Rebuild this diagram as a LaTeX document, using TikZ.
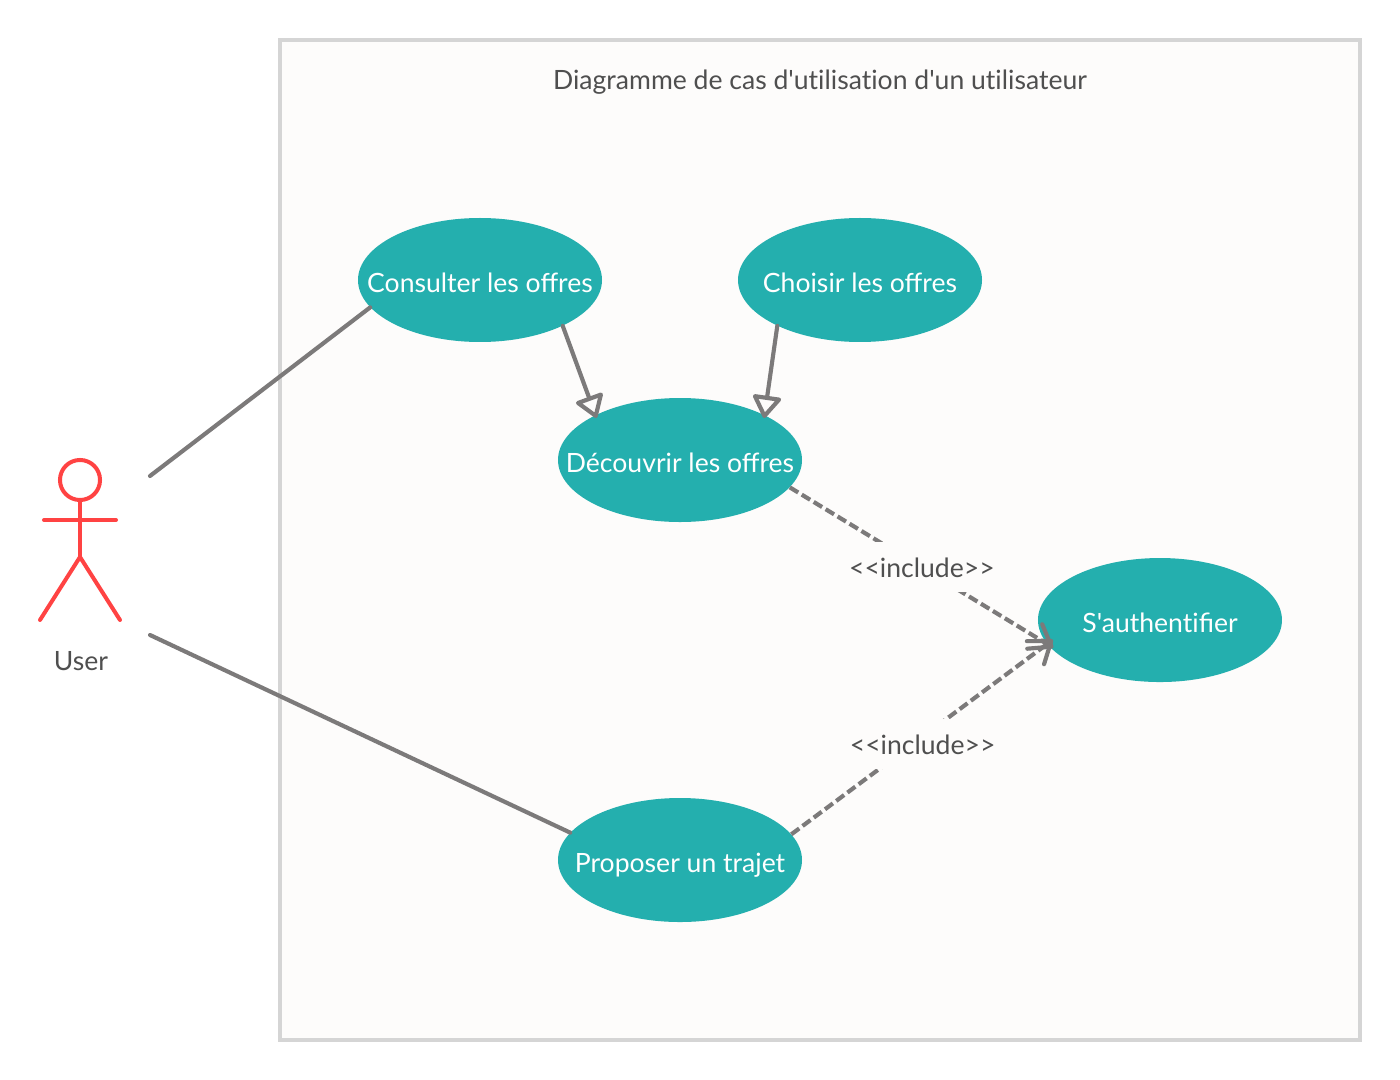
\documentclass[tikz,border=0pt]{standalone}
\usepackage{fontspec}
\usepackage{xcolor}
\usetikzlibrary{positioning}
\usetikzlibrary{shapes.geometric}
\usetikzlibrary{arrows.meta}
\newfontfamily\latofont{Lato}
\definecolor{uc-teal}{HTML}{24AFAE}
\definecolor{uc-line}{HTML}{7C7A7A}
\definecolor{uc-red}{HTML}{FF4343}
\definecolor{uc-frame}{HTML}{D5D5D5}
\definecolor{uc-back}{HTML}{FDFCFB}
\definecolor{uc-text}{HTML}{4F4F4F}
\newcommand{\ucname}[1]{\makebox[0pt]{#1}}
\newcommand{\nolig}{\kern0pt }
\begin{document}
\begin{tikzpicture}
[
x=0.2646mm, y=-0.2646mm,
frame-a/.style={draw=uc-frame, fill=uc-back, line width=1.06mm},
case-a/.style={ellipse, fill=uc-teal, text=white, inner sep=0mm, minimum width=64.56mm, minimum height=32.81mm, on grid, text height=6.4mm, text depth=0mm, font=\latofont\fontsize{20}{24}\selectfont},
text-a/.style={text=uc-text, font=\latofont\fontsize{20}{24}\selectfont},
actor-a/.style={draw=uc-red, line width=1.06mm, line cap=round},
link-a/.style={draw=uc-line, line width=1.1mm, line cap=round},
gen-a/.style={link-a, -{Triangle[open, length=6.4mm, width=8.2mm, round]}, shorten >=-0.8mm},
dep-a/.style={link-a, line cap=butt, dash pattern=on 2.6mm off 1.1mm, -{Straight Barb[length=5.2mm, width=7.6mm, round]}, shorten >=-1.9mm},
dep-lb/.style={text-a, fill=uc-back, minimum height=13.2mm, inner sep=0mm, text height=5.7mm, text depth=0mm, xshift=0.9mm, yshift=-1.2mm}
]
\useasboundingbox (0,0) rectangle (1400,1080);
\node (sys-box)  [frame-a, rectangle, minimum width=285.7mm, minimum height=264.6mm, inner sep=0mm] at (820,540) { };
\node (sys-name) [text-a] at (820,82) {Diagramme de cas d'ut\nolig ilisat\nolig ion d'un ut\nolig ilisateur};
\node (uc-consult) [case-a] at (480,280)                              {\ucname{Consulter les offres}};
\node (uc-choose)  [case-a, right       = 100.55mm of uc-consult]     {\ucname{Choisir les offres}};
\node (uc-explore) [case-a, below right = 47.63mm and 52.92mm of uc-consult] {\ucname{Découvrir les offres}};
\node (uc-propose) [case-a, below       = 105.84mm of uc-explore]     {\ucname{Proposer un trajet}};
\node (uc-auth)    [case-a, below right = 42.34mm and 127mm of uc-explore]   {\ucname{S'authent\nolig ifier}};
% actor
\node (act-head)  [circle, draw=uc-red, line width=1.06mm, minimum size=10.6mm, inner sep=0mm] at (80,480) { };
\coordinate (act-hip)   at (80,557);
\coordinate (act-arm-l) at (44,520);
\coordinate (act-arm-r) at (116,520);
\coordinate (act-leg-l) at (40,620);
\coordinate (act-leg-r) at (120,620);
\coordinate (act-top)   at (150,476);
\coordinate (act-low)   at (150,635);
\node (act-name) [text-a] at (81,661) {User};
\draw [actor-a] (act-head.south) -- (act-hip);
\draw [actor-a] (act-arm-l) -- (act-arm-r);
\draw [actor-a] (act-leg-l) -- (act-hip) -- (act-leg-r);
% links
\draw [link-a] (act-top) -- (uc-consult.194.3);
\draw [link-a] (act-low) -- (uc-propose.166);
\draw [gen-a] (uc-consult.-29.3) -- (uc-explore.152.3);
\draw [gen-a] (uc-choose.209.3) -- (uc-explore.28.5);
\draw [dep-a] (uc-explore.-14) -- node (dep-top) [dep-lb, yshift=0.8mm] {<<include>>} (uc-auth.192);
\draw [dep-a] (uc-propose.13.5) -- node (dep-low) [dep-lb] {<<include>>} (uc-auth.192);
\end{tikzpicture}
\end{document}
